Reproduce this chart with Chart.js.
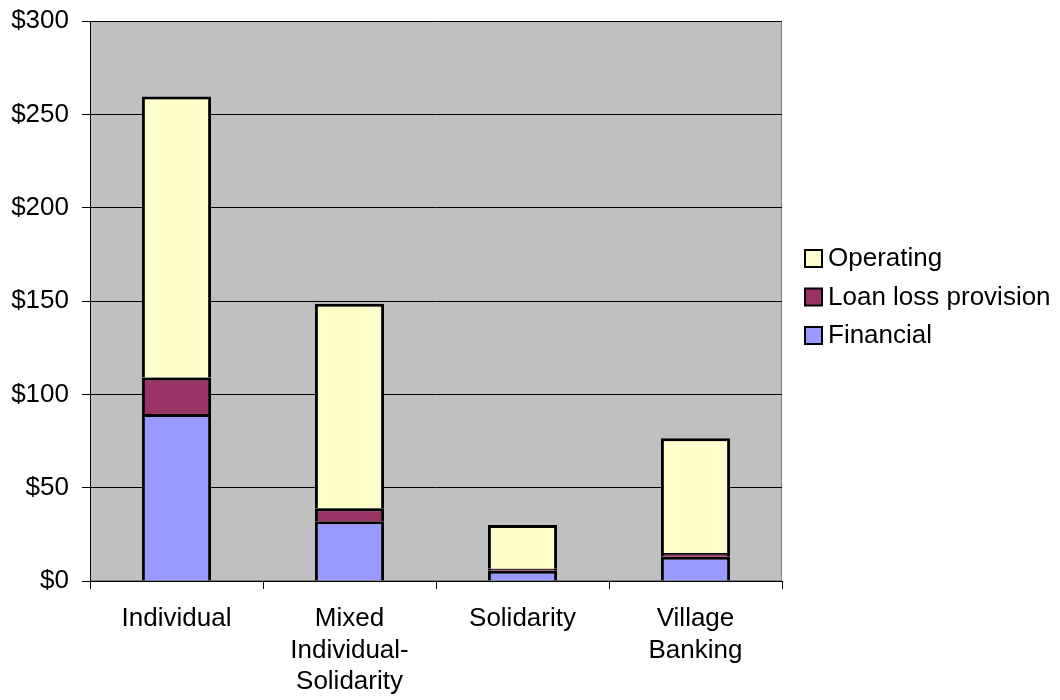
<!DOCTYPE html>
<html>
<head>
<meta charset="utf-8">
<script src="https://cdn.jsdelivr.net/npm/chart.js@4"></script>
<style>
  body { margin: 0; background: #fff; }
  #wrap { width: 1060px; height: 700px; }
</style>
</head>
<body>
<div id="wrap"><canvas id="costChart" width="1060" height="700"></canvas></div>
<script>
// cost per borrower by lending methodology
var categories = [['Individual'], ['Mixed', 'Individual-', 'Solidarity'], ['Solidarity'], ['Village', 'Banking']];
var financial = [89.5, 32, 5.5, 13];
var loanLoss = [19.5, 7, 1, 2];
var operating = [150.5, 109.5, 23.5, 61.5];
var yTicks = [0, 50, 100, 150, 200, 250, 300];

var FONT = 'Liberation Sans, Arial, sans-serif';
var FSIZE = 26;

// grey plot area with a thin frame
var plotBg = {
  id: 'plotBg',
  beforeDraw: function (chart) {
    var a = chart.chartArea, c = chart.ctx;
    c.save();
    c.fillStyle = '#c0c0c0';
    c.fillRect(a.left, a.top, a.right - a.left, a.bottom - a.top);
    c.strokeStyle = '#808080';
    c.lineWidth = 1;
    c.strokeRect(a.left + 0.5, a.top + 0.5, a.right - a.left - 1, a.bottom - a.top - 1);
    c.restore();
  }
};

// legend on the right, top series first
var sideLegend = {
  id: 'sideLegend',
  afterDraw: function (chart) {
    var c = chart.ctx;
    var ds = chart.data.datasets.slice().reverse();
    var x = 805, y = 258;
    c.save();
    c.font = FSIZE + 'px ' + FONT;
    c.textBaseline = 'middle';
    ds.forEach(function (d, i) {
      var yy = y + i * 38.5;
      c.fillStyle = d.backgroundColor;
      c.fillRect(x, yy - 8, 17, 17);
      c.strokeStyle = '#000';
      c.lineWidth = 2;
      c.strokeRect(x, yy - 8, 17, 17);
      c.fillStyle = '#000';
      c.fillText(d.label, x + 23, yy + 1);
    });
    c.restore();
  }
};

new Chart(document.getElementById('costChart'), {
  type: 'bar',
  data: {
    labels: categories,
    datasets: [
      { label: 'Financial', data: financial, backgroundColor: '#9999ff', borderColor: '#000', borderWidth: 3 },
      { label: 'Loan loss provision', data: loanLoss, backgroundColor: '#993366', borderColor: '#000', borderWidth: 3 },
      { label: 'Operating', data: operating, backgroundColor: '#ffffcc', borderColor: '#000', borderWidth: 3 }
    ]
  },
  options: {
    responsive: false,
    animation: false,
    layout: { padding: { top: 21, right: 278, left: 0, bottom: 0 } },
    datasets: { bar: { categoryPercentage: 0.4, barPercentage: 1 } },
    plugins: { legend: { display: false }, tooltip: { enabled: false } },
    scales: {
      x: {
        stacked: true,
        afterFit: function (s) { s.height = 119; },
        grid: { offset: true, drawOnChartArea: false, color: '#000', tickLength: 8 },
        border: { color: '#000' },
        ticks: { color: '#000', padding: 14, font: { family: FONT, size: FSIZE, lineHeight: 1.22 }, maxRotation: 0 }
      },
      y: {
        stacked: true,
        min: 0,
        max: 300,
        afterFit: function (s) { s.width = 90; s.paddingTop = 0; s.paddingBottom = 0; },
        afterBuildTicks: function (s) { s.ticks = yTicks.map(function (v) { return { value: v }; }); },
        grid: { color: '#000', tickLength: 8 },
        border: { color: '#000' },
        ticks: {
          color: '#000', padding: 13, font: { family: FONT, size: FSIZE },
          callback: function (v) { return '$' + v; }
        }
      }
    }
  },
  plugins: [plotBg, sideLegend]
});
</script>
</body>
</html>
